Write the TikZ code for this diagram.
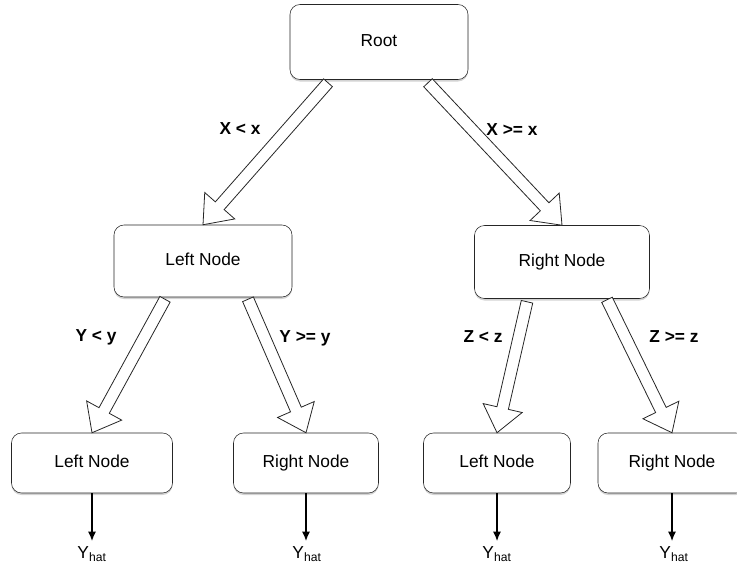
\documentclass[tikz,border=0pt]{standalone}
\usepackage{fontspec}
\setmainfont{Liberation Sans}
\usetikzlibrary{calc,shadows,arrows.meta}

\tikzset{
  box/.style={draw=black!85, rounded corners=7.5pt, fill=white, minimum height=45pt,
    font=\fontsize{13}{15}\selectfont, text height=9.5pt, text depth=2.7pt,
    drop shadow={shadow xshift=0pt, shadow yshift=-1.5pt, opacity=.35}},
  cond/.style={font=\fontsize{13}{15}\selectfont\bfseries},
  fat/.style={draw=black!85, fill=white, line width=.6pt, line join=miter},
  yhat/.style={font=\fontsize{13}{15}\selectfont, inner sep=1pt, anchor=north},
}

% hollow block arrow from #1 to #2
\newcommand\fatarrow[2]{%
  \coordinate (neck) at ($(#2)!19pt!(#1)$);
  \draw[fat] ($(#1)!4.4pt!90:(#2)$) -- ($(neck)!4.4pt!-90:(#1)$) -- ($(neck)!15pt!-90:(#1)$) -- (#2)
    -- ($(neck)!15pt!90:(#1)$) -- ($(neck)!4.4pt!90:(#1)$) -- ($(#1)!4.4pt!-90:(#2)$) -- cycle;
}

\begin{document}
\begin{tikzpicture}[x=0.75pt,y=-0.75pt]
  \useasboundingbox (0,0) rectangle (737,564);

  \node[box, minimum width=133.5pt, minimum height=56.25pt] (root) at (379,42) {Root};
  \node[box, minimum width=133.5pt, minimum height=54pt] (left) at (203,261) {Left Node};
  \node[box, minimum width=131.25pt, minimum height=54.75pt] (right) at (562,262) {Right Node};
  \node[box, minimum width=120.75pt] (ll) at (92,463) {Left Node};
  \node[box, minimum width=108.75pt] (lr) at (306,463) {Right Node};
  \node[box, minimum width=110.25pt] (rl) at (497,463) {Left Node};
  \node[box, minimum width=111pt] (rr) at (672,463) {Right Node};

  \coordinate (root-l) at ($(root.south)+(-51,3)$);
  \coordinate (root-r) at ($(root.south)+(49,3)$);
  \coordinate (left-l) at ($(left.south)+(-38,2)$);
  \coordinate (left-r) at ($(left.south)+(45,2)$);
  \coordinate (right-l) at ($(right.south)+(-35,3)$);
  \coordinate (right-r) at ($(right.south)+(45,1)$);

  \foreach \a/\b in {root-l/left, root-r/right, left-l/ll, left-r/lr, right-l/rl, right-r/rr}
  {
    \fatarrow{\a}{\b.north}
  }

  \node[cond] at (240,129) {X < x};
  \node[cond] at (512,130) {X >= x};
  \node[cond] at (96,337) {Y < y};
  \node[cond] at (305,338) {Y >= y};
  \node[cond] at (483,337) {Z < z};
  \node[cond] at (674,337) {Z >= z};

  \foreach \n/\x in {ll/92, lr/307, rl/497, rr/674}
  {
    \node[yhat] (\n-y) at (\x,545) {Y\textsubscript{hat}};
    \draw[-{Latex[length=7pt,width=6pt]}, line width=.9pt, shorten >=3pt] (\n.south) -- (\n.south |- \n-y.north);
  }
\end{tikzpicture}
\end{document}
